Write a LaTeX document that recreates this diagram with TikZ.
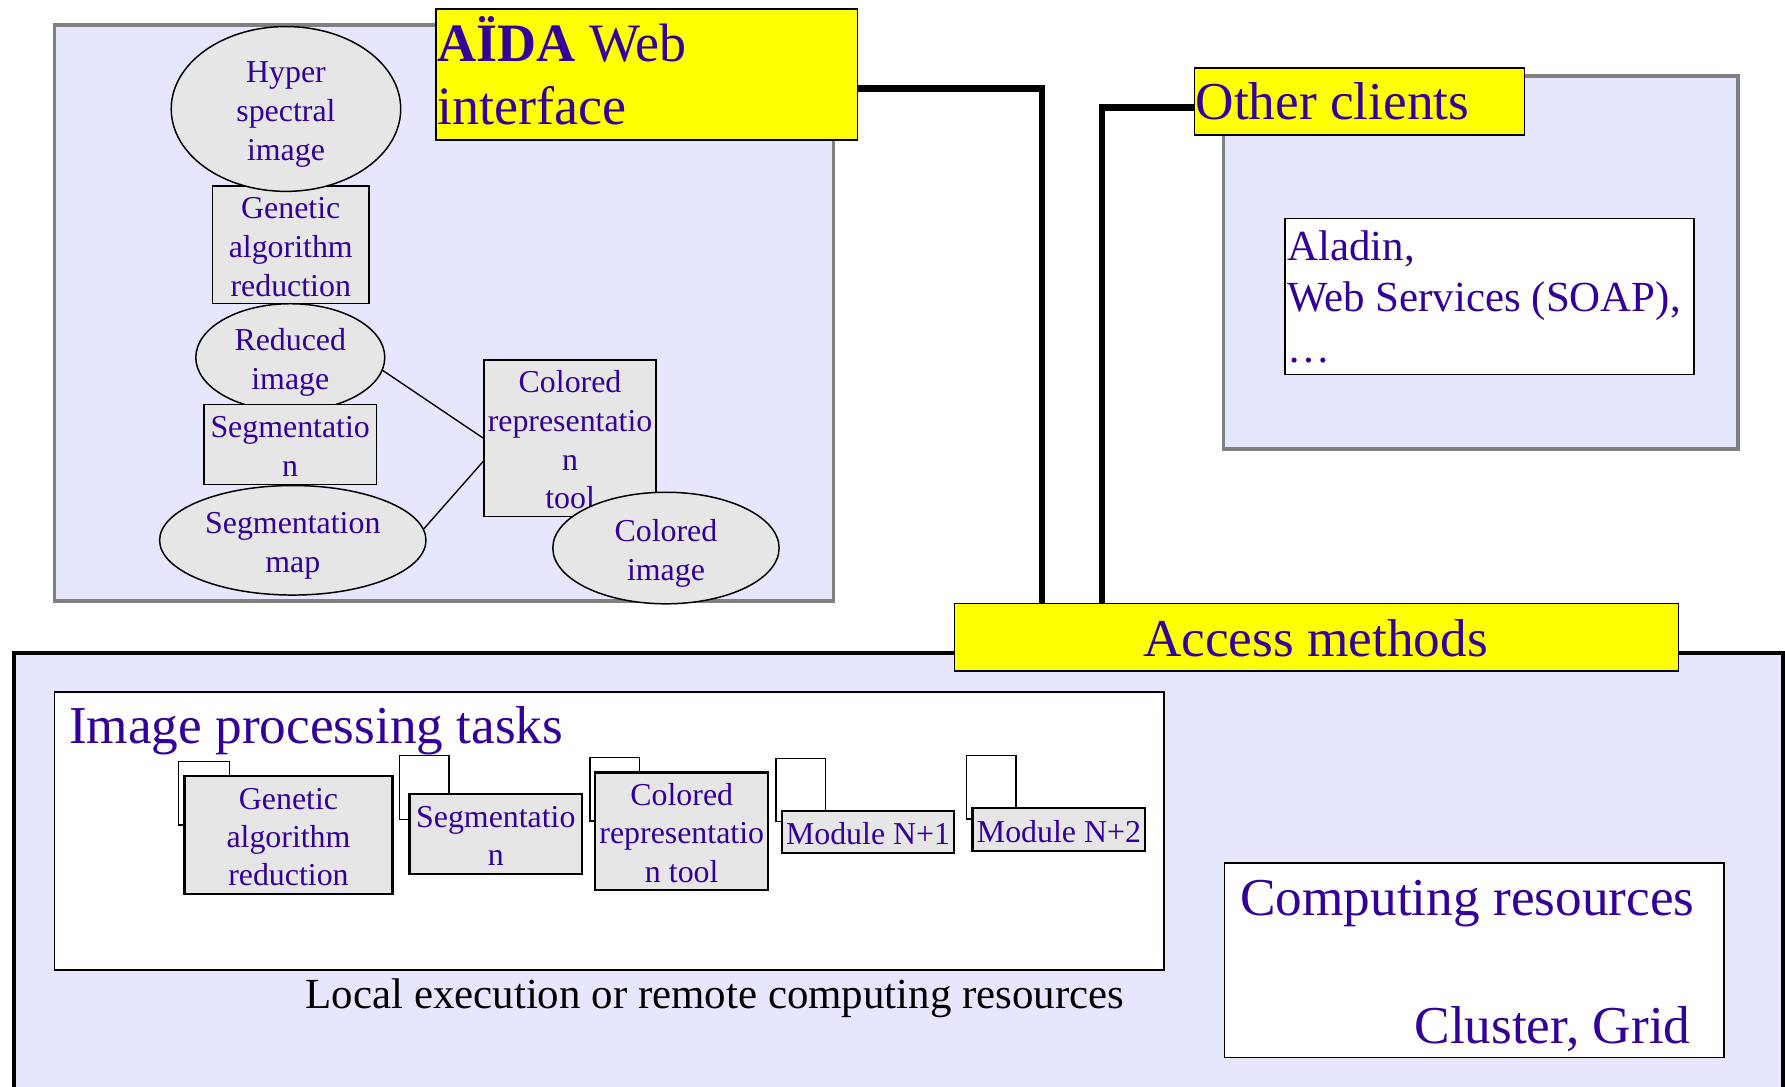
\documentclass[tikz,border=0pt]{standalone}
\usepackage{fontspec}
\setmainfont{Liberation Serif}
\usetikzlibrary{shapes.geometric}
\definecolor{txtblue}{RGB}{51,0,153}
\definecolor{lav}{RGB}{230,230,255}
\definecolor{nodegray}{RGB}{230,230,230}
\definecolor{bordergray}{RGB}{128,128,128}
\definecolor{yel}{RGB}{255,255,0}
% centred block of lines whose box does not alter the node size
\newcommand\ctxt[1]{\smash{\raisebox{-10.6pt}{\begin{tabular}{@{}c@{}}#1\end{tabular}}}}
\tikzset{
 panel/.style={draw=bordergray, line width=3pt, fill=lav},
 ybox/.style={draw=black, line width=1.5pt, fill=yel},
 wbox/.style={draw=black, line width=1.5pt, fill=white},
 gnode/.style={draw=black, line width=1.3pt, fill=nodegray, text=txtblue, font=\fontsize{28}{34}\selectfont, inner sep=0pt},
 gell/.style={gnode, ellipse},
 mod/.style={draw=black, line width=2pt, fill=nodegray, text=txtblue, font=\fontsize{28}{33.5}\selectfont, inner sep=0pt},
 tabbox/.style={draw=black, line width=1.2pt, fill=white},
 wire/.style={line width=6pt, line join=miter},
 link/.style={line width=1.2pt},
 big/.style={font=\fontsize{46.8}{55}\selectfont, text=txtblue, inner sep=0pt},
 mid/.style={font=\fontsize{37.7}{45}\selectfont, text=txtblue, inner sep=0pt},
}
\begin{document}
\begin{tikzpicture}[x=1pt,y=-1pt]
\useasboundingbox (0,0) rectangle (1568,954);
\clip (0,0) rectangle (1568,954);
\fill[white] (0,0) rectangle (1568,954);

% ---------- AIDA web interface panel ----------
\draw[panel] (47.9,21.9) rectangle (732.2,528);
\node[gnode, minimum width=137.6pt, minimum height=103.6pt] (ga) at (255.4,215) {\ctxt{Genetic\\algorithm\\reduction}};
\node[gell, minimum width=201.6pt, minimum height=144.8pt] (hyp) at (251.2,95.7) {\ctxt{Hyper\\spectral\\image}};
\node[gell, minimum width=166pt, minimum height=94.4pt] (red) at (255,314) {\ctxt{Reduced\\image}};
\node[gnode, minimum width=151.8pt, minimum height=70.2pt] (seg) at (254.9,390.4) {\ctxt{Segmentatio\\n}};
\node[gell, minimum width=234pt, minimum height=96.2pt] (smap) at (257.2,474.6) {\ctxt{Segmentation\\map}};
\node[gnode, minimum width=151.3pt, minimum height=137.5pt] (crt) at (500.75,384.85) {\ctxt{Colored\\representatio\\n\\tool}};
\node[gell, minimum width=198.8pt, minimum height=98pt] (cimg) at (585,481.4) {\ctxt{Colored\\image}};
\draw[link] (red.-8) -- (crt.west);
\draw[link] (smap.5) -- (crt.195.5);

% ---------- Other clients panel ----------
\draw[panel] (1074.7,66.7) rectangle (1526.7,394.3);
\node[wbox, line width=1.3pt, anchor=north west, minimum width=359.4pt, minimum height=137.2pt, inner sep=0pt] (ald) at (1128.2,191.2) {};
\node[mid, anchor=base west] (ald1) at (1130.7,228.6) {Aladin,};
\node[mid, anchor=base west] (ald2) at (1130.7,273.5) {Web Services (SOAP),};
\node[mid, anchor=base west] (ald3) at (1130.7,318) {…};

% ---------- bottom panel ----------
\draw[draw=black, line width=3.5pt, fill=lav] (12,574) rectangle (1566,1010);
\node[wbox, anchor=north west, minimum width=975pt, minimum height=244.2pt, inner sep=0pt] (ipt) at (47,607) {};
\node[big, anchor=base west] (iptt) at (60.5,653) {Image processing tasks};

% modules (tab behind, card in front)
\draw[tabbox] (157,669) rectangle (201.6,724.7);
\node[mod, minimum width=182.8pt, minimum height=104.2pt] (m1) at (253.4,733.5) {\ctxt{Genetic\\algorithm\\reduction}};
\draw[tabbox] (350.8,663.5) rectangle (394.5,719.7);
\node[mod, minimum width=151.9pt, minimum height=70.6pt] (m2) at (435.55,732.5) {\ctxt{Segmentatio\\n}};
\draw[tabbox] (518.2,665.6) rectangle (561.9,721.2);
\node[mod, minimum width=151.9pt, minimum height=103.6pt] (m3) at (598.85,730.3) {\ctxt{Colored\\representatio\\n tool}};
\draw[tabbox] (681.5,666.2) rectangle (725.2,721.8);
\node[mod, minimum width=151.2pt, minimum height=37.2pt] (m4) at (762.5,731) {\ctxt{Module N+1}};
\draw[tabbox] (848.9,663.5) rectangle (892.5,719.4);
\node[mod, minimum width=151.8pt, minimum height=37.3pt] (m5) at (930.2,728.65) {\ctxt{Module N+2}};

\node[mid, text=black, anchor=base] (loc) at (628,885.8) {Local execution or remote computing resources};

\node[wbox, anchor=north west, minimum width=438.6pt, minimum height=170.7pt, inner sep=0pt] (cr) at (1075,757.5) {};
\node[big, anchor=base west] (cr1) at (1089.2,803.8) {Computing resources};
\node[big, anchor=base east] (cr2) at (1485.2,916.5) {Cluster, Grid};

% ---------- yellow headers ----------
\node[ybox, anchor=north west, minimum width=370.2pt, minimum height=115.4pt, inner sep=0pt] (aida) at (382.2,6.9) {};
\node[big, font=\fontsize{47.5}{55}\selectfont, anchor=base west] (aida1) at (384,53.9) {\textbf{AÏDA} Web};
\node[big, font=\fontsize{47.5}{55}\selectfont, anchor=base west] (aida2) at (384,109.4) {interface};

\node[ybox, anchor=north west, minimum width=290pt, minimum height=59pt, inner sep=0pt] (oc) at (1048.4,59) {};
\node[big, anchor=base west] (oct) at (1050,104.8) {Other clients};

\node[ybox, anchor=north west, minimum width=635.9pt, minimum height=59pt, inner sep=0pt] (acc) at (837.7,529.5) {};
\node[big, anchor=base] (acct) at (1155.6,576.5) {Access methods};

% ---------- wires ----------
\coordinate (w1) at (915.3,77.6);
\coordinate (w2) at (968,94.5);
\draw[wire] (aida.east |- w1) -- (w1) -- (w1 |- acc.north);
\draw[wire] (oc.west |- w2) -- (w2) -- (w2 |- acc.north);
\end{tikzpicture}
\end{document}
